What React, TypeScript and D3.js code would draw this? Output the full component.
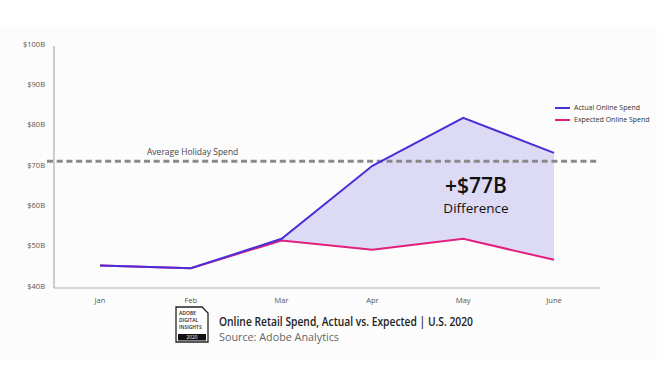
import React from "react";
import * as d3 from "d3";

const months = ["Jan", "Feb", "Mar", "Apr", "May", "June"];
const actual = [45.1, 44.4, 51.7, 69.8, 81.7, 73.0];
const expected = [45.1, 44.4, 51.3, 49.0, 51.7, 46.5];
const yTicks = [40, 50, 60, 70, 80, 90, 100];
const avgHoliday = 70.9;
const fillStart = 2; // from Mar
const diffLabel = "+$77B";

const W = 670;
const H = 380;
const FONT = "'Open Sans', 'Noto Sans', sans-serif";

export default function App() {
  const x = d3.scalePoint<string>().domain(months).range([100, 554]);
  const y = d3.scaleLinear().domain([40, 100]).range([286, 44]);

  const line = d3
    .line<number>()
    .x((_, i) => x(months[i]) as number)
    .y((d) => y(d));

  const idx = d3.range(fillStart, months.length);
  const area = d3
    .area<number>()
    .x((i) => x(months[i]) as number)
    .y0((i) => y(expected[i]))
    .y1((i) => y(actual[i]));

  const blue = "#4a2fd8";
  const pink = "#e0207c";

  return (
    <svg
      width={W}
      height={H}
      style={{ position: "absolute", left: 0, top: 0, display: "block", background: "#fff" }}
    >
      <rect x={0} y={26} width={657} height={334} fill="#fcfcfc" />
      {/* axes */}
      <line x1={54} x2={54} y1={y(100) + 2} y2={288} stroke="#9a9a9a" strokeWidth={1} />
      <line x1={54} x2={600} y1={288} y2={288} stroke="#b0b0b0" strokeWidth={1} />
      {yTicks.map((t) => (
        <text
          key={t}
          x={45}
          y={y(t)}
          dy="0.35em"
          textAnchor="end"
          fontFamily={FONT}
          fontSize={7.5}
          fill="#555"
        >
          {`$${t}B`}
        </text>
      ))}
      {months.map((m) => (
        <text
          key={m}
          x={x(m)}
          y={300}
          dy="0.35em"
          textAnchor="middle"
          fontFamily={FONT}
          fontSize={7.5}
          fill="#555"
        >
          {m}
        </text>
      ))}

      {/* difference area */}
      <path d={area(idx) || ""} fill="#dcdaf5" />

      {/* average line */}
      <line
        x1={47}
        x2={598}
        y1={y(avgHoliday)}
        y2={y(avgHoliday)}
        stroke="#8a8a8a"
        strokeWidth={3}
        strokeDasharray="6,3.7"
      />
      <text x={147} y={155} fontFamily={FONT} fontSize={8.5} fill="#444">
        Average Holiday Spend
      </text>

      {/* lines */}
      <path d={line(expected) || ""} fill="none" stroke={pink} strokeWidth={2} />
      <path d={line(actual) || ""} fill="none" stroke={blue} strokeWidth={2} />

      {/* difference label */}
      <text
        x={476}
        y={193}
        textAnchor="middle"
        fontFamily={FONT}
        fontSize={21}
        fontWeight={600}
        fill="#111"
      >
        {diffLabel}
      </text>
      <text x={476} y={213} textAnchor="middle" fontFamily={FONT} fontSize={13.5} fill="#111">
        Difference
      </text>

      {/* legend */}
      <line x1={555} x2={570} y1={108} y2={108} stroke={blue} strokeWidth={2} />
      <text x={574} y={108} dy="0.35em" fontFamily={FONT} fontSize={7} fill="#333">
        Actual Online Spend
      </text>
      <line x1={555} x2={570} y1={120} y2={120} stroke={pink} strokeWidth={2} />
      <text x={574} y={120} dy="0.35em" fontFamily={FONT} fontSize={7} fill="#333">
        Expected Online Spend
      </text>

      {/* logo */}
      <g>
        <path
          d="M176,307 L202,307 L208,313 L208,342 L176,342 Z"
          fill="#fff"
          stroke="#222"
          strokeWidth={1.3}
        />
        <text x={179} y={315} fontFamily={FONT} fontSize={5} fontWeight={600} fill="#222">ADOBE</text>
        <text x={179} y={322} fontFamily={FONT} fontSize={5} fontWeight={600} fill="#222">DIGITAL</text>
        <text x={179} y={329} fontFamily={FONT} fontSize={5} fontWeight={600} fill="#222">INSIGHTS</text>
        <rect x={178} y={334} width={28} height={6.5} fill="#111" />
        <text x={192} y={339.3} textAnchor="middle" fontFamily={FONT} fontSize={4.8} fill="#fff">
          2020
        </text>
      </g>

      {/* title */}
      <text
        x={219}
        y={326}
        fontFamily={FONT}
        fontSize={12}
        fontWeight={600}
        fill="#222"
        textLength={254}
        lengthAdjust="spacingAndGlyphs"
      >
        Online Retail Spend, Actual vs. Expected | U.S. 2020
      </text>
      <text
        x={219}
        y={341}
        fontFamily={FONT}
        fontSize={11}
        fill="#666"
        textLength={120}
        lengthAdjust="spacingAndGlyphs"
      >
        Source: Adobe Analytics
      </text>
    </svg>
  );
}
